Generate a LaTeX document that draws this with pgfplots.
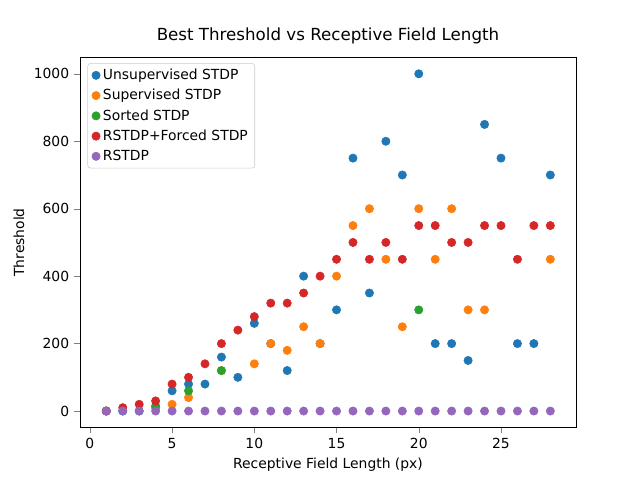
\documentclass[border=0pt]{standalone}
\usepackage{pgfplots}
\pgfplotsset{compat=1.18}
\usepackage{fontspec}
\setmainfont{DejaVu Sans}
\definecolor{c1}{HTML}{1F77B4}
\definecolor{c2}{HTML}{FF7F0E}
\definecolor{c3}{HTML}{2CA02C}
\definecolor{c4}{HTML}{D62728}
\definecolor{c5}{HTML}{9467BD}
\begin{document}
\begin{tikzpicture}
\path[use as bounding box] (-57.6pt,-38.0pt) rectangle (403.2pt,307.6pt);
\begin{axis}[at={(0,0)},anchor=south west,scale only axis,width=357.1pt,height=266.1pt,
xmin=-0.6,xmax=29.56,ymin=-48,ymax=1048,
xtick={0,5,...,25},ytick={0,200,...,1000},
/pgf/number format/assume math mode=true,
/pgf/number format/1000 sep={},
tick label style={font=\fontsize{10}{12}\selectfont},
label style={font=\fontsize{10}{12}\selectfont},
title style={font=\fontsize{12}{14}\selectfont},
title={Best Threshold vs Receptive Field Length},
xlabel={Receptive Field Length (px)},ylabel={Threshold},
tick align=outside,xtick pos=bottom,ytick pos=left,
legend style={at={(0.015,0.985)},anchor=north west,font=\fontsize{10}{12}\selectfont,draw=black!20,rounded corners=2pt,row sep=1.5pt},
legend cell align=left,
every axis plot/.append style={only marks,mark=*,mark size=3pt},
]
\addplot[c1,mark options={fill=c1,draw=c1}] coordinates {(1,0)(2,0)(3,0)(4,10)(5,60)(6,80)(7,80)(8,160)(9,100)(10,260)(11,200)(12,120)(13,400)(14,200)(15,300)(16,750)(17,350)(18,800)(19,700)(20,1000)(21,200)(22,200)(23,150)(24,850)(25,750)(26,200)(27,200)(28,700)};
\addlegendentry{Unsupervised STDP}
\addplot[c2,mark options={fill=c2,draw=c2}] coordinates {(1,0)(4,10)(5,20)(6,40)(8,120)(10,140)(11,200)(12,180)(13,250)(14,200)(15,400)(16,550)(17,600)(18,450)(19,250)(20,600)(21,450)(22,600)(23,300)(24,300)(28,450)};
\addlegendentry{Supervised STDP}
\addplot[c3,mark options={fill=c3,draw=c3}] coordinates {(1,0)(4,15)(6,60)(8,120)(20,300)};
\addlegendentry{Sorted STDP}
\addplot[c4,mark options={fill=c4,draw=c4}] coordinates {(1,0)(2,10)(3,20)(4,30)(5,80)(6,100)(7,140)(8,200)(9,240)(10,280)(11,320)(12,320)(13,350)(14,400)(15,450)(16,500)(17,450)(18,500)(19,450)(20,550)(21,550)(22,500)(23,500)(24,550)(25,550)(26,450)(27,550)(28,550)};
\addlegendentry{RSTDP+Forced STDP}
\addplot[c5,mark options={fill=c5,draw=c5}] coordinates {(1,0)(2,0)(3,0)(4,0)(5,0)(6,0)(7,0)(8,0)(9,0)(10,0)(11,0)(12,0)(13,0)(14,0)(15,0)(16,0)(17,0)(18,0)(19,0)(20,0)(21,0)(22,0)(23,0)(24,0)(25,0)(26,0)(27,0)(28,0)};
\addlegendentry{RSTDP}
\end{axis}
\end{tikzpicture}
\end{document}
